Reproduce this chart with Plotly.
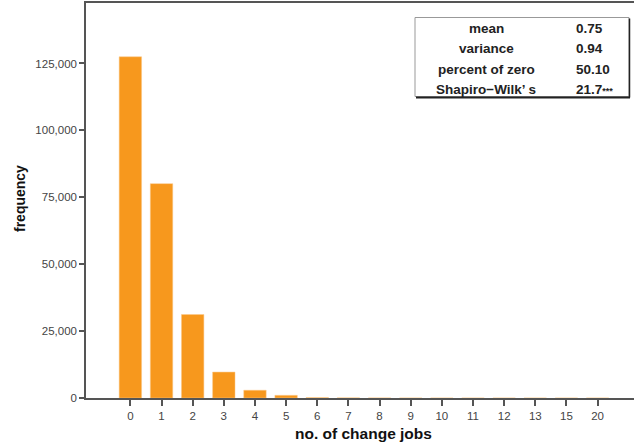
import plotly.graph_objects as go

categories = ["0", "1", "2", "3", "4", "5", "6", "7", "8", "9", "10", "11", "12", "13", "15", "20"]
frequency = [127500, 80100, 31200, 9700, 2900, 1000, 150, 50, 20, 10, 5, 3, 2, 1, 1, 1]
y_tickvals = [0, 25000, 50000, 75000, 100000, 125000]
y_ticktext = ["0", "25,000", "50,000", "75,000", "100,000", "125,000"]
stat_labels = ["mean", "variance", "percent of zero", "Shapiro\u2212Wilk\u2019 s"]
stat_values = ["0.75", "0.94", "50.10", "21.7<span style='font-size:9px'>***</span>"]

W, H = 634, 444
L, R, T, B = 86, 0, 3, 46
PW, PH = W - L - R, H - T - B
FONT = "Liberation Sans, Arial, sans-serif"


def px(x):
    return (x - L) / PW


def py(y):
    return (H - B - y) / PH


fig = go.Figure()
fig.add_trace(go.Bar(
    x=categories, y=frequency,
    marker=dict(color="#F7981D", line=dict(color="#FBC98A", width=0.5)),
    width=0.72,
))

fig.update_layout(
    width=W, height=H,
    margin=dict(l=L, r=R, t=T, b=B, autoexpand=False),
    plot_bgcolor="white", paper_bgcolor="white",
    showlegend=False,
    font=dict(family=FONT, color="#333"),
)
fig.update_xaxes(
    type="category", range=[-1.425, 16.17],
    showline=True, linecolor="#555", linewidth=1.5, mirror=True,
    ticks="outside", ticklen=6, tickcolor="#555", tickwidth=1.5,
    tickfont=dict(size=11.5, color="#444"), showgrid=False, zeroline=False,
)
fig.update_yaxes(
    range=[0, 147600],
    tickvals=y_tickvals, ticktext=y_ticktext,
    showline=True, linecolor="#555", linewidth=1.5,
    ticks="outside", ticklen=5, tickcolor="#555", tickwidth=1.5,
    tickfont=dict(size=11.5, color="#444"), showgrid=False, zeroline=False,
)

shapes = [
    dict(type="rect", xref="paper", yref="paper",
         x0=px(415), x1=px(629), y0=py(96.5), y1=py(17.5),
         line=dict(color="#999", width=1), fillcolor="white"),
    dict(type="line", xref="paper", yref="paper",
         x0=px(416), x1=px(630), y0=py(97.5), y1=py(97.5),
         line=dict(color="#222", width=2)),
    dict(type="line", xref="paper", yref="paper",
         x0=px(629.5), x1=px(629.5), y0=py(18.5), y1=py(97.5),
         line=dict(color="#222", width=1.5)),
]
fig.update_layout(shapes=shapes)

row_y = [28.5, 49, 69.5, 89.5]
tbl_font = dict(size=13.5, color="#222", family=FONT, weight="bold")
annotations = []
for lab, val, yy in zip(stat_labels, stat_values, row_y):
    annotations.append(dict(
        text=lab, xref="paper", yref="paper", x=px(486), y=py(yy),
        xanchor="center", yanchor="middle", showarrow=False, font=tbl_font,
    ))
    annotations.append(dict(
        text=val, xref="paper", yref="paper", x=px(574), y=py(yy),
        xanchor="left", yanchor="middle", showarrow=False, font=tbl_font,
    ))
annotations.append(dict(
    text="no. of change jobs", xref="paper", yref="paper", x=px(363), y=py(433),
    xanchor="center", yanchor="middle", showarrow=False,
    font=dict(size=15.5, color="#111", family=FONT, weight="bold"),
))
annotations.append(dict(
    text="frequency", xref="paper", yref="paper", x=px(20), y=py(199),
    xanchor="center", yanchor="middle", showarrow=False, textangle=-90,
    font=dict(size=14, color="#111", family=FONT, weight="bold"),
))
fig.update_layout(annotations=annotations)

fig.write_html(
    "out.html",
    config={"displayModeBar": False},
    post_script="document.body.style.margin='0';document.body.style.overflow='hidden';",
)
